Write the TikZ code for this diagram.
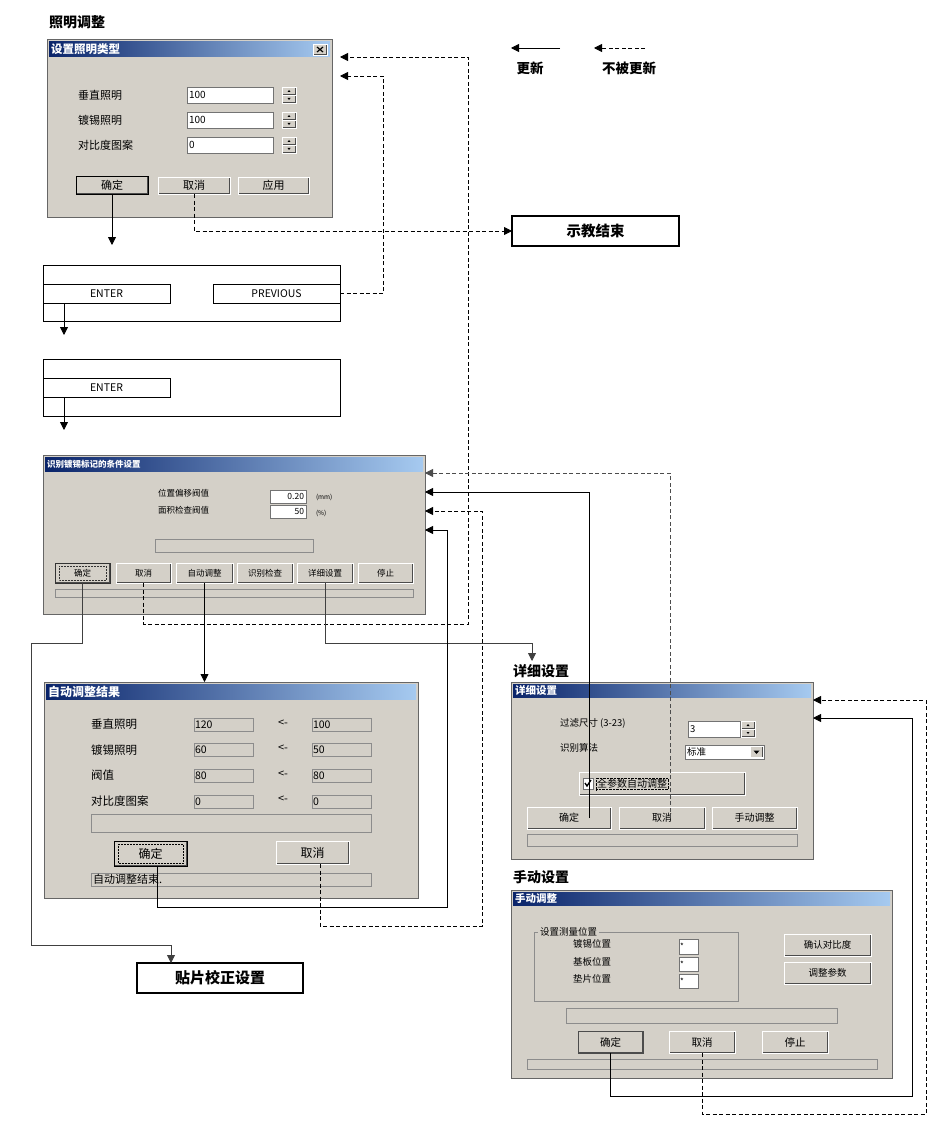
\documentclass[tikz,border=0pt]{standalone}
\usepackage{fontspec}
\setmainfont{Noto Sans CJK SC}
\usetikzlibrary{arrows.meta,fit,calc}
\definecolor{winbg}{HTML}{D4D0C8}
\definecolor{tbA}{HTML}{0A246A}
\definecolor{tbB}{HTML}{A6CAF0}
\newcommand\fs[1]{\fontsize{#1}{#1}\selectfont}
\newcommand\wintitle[4]{%
  \shade[left color=tbA, right color=tbB] ([shift={(2,2)}]#1.north west) rectangle ([shift={(-2,#2)}]#1.north east);
  \node[box, anchor=west, text=white, font=\bfseries\fs{#3}] (#1title) at ([shift={(4,{(#2+2)/2})}]#1.north west) {#4};}
\newcommand\spin[3]{%
  \node[btn, fit={(#2,#3)(#2+14,#3+8)}] (#1u) {};
  \node[btn, fit={(#2,#3+8)(#2+14,#3+16)}] (#1d) {};
  \fill (#1u.center) ++(-1.5,1) -- ++(3,0) -- ++(-1.5,-2) -- cycle;
  \fill (#1d.center) ++(-1.5,-1) -- ++(3,0) -- ++(-1.5,2) -- cycle;}
% box with centred text: [style]{name}{x1}{y1}{x2}{y2}{font}{text}
\newcommand\bx[8][]{%
  \node[#1, fit={(#3,#4)(#5,#6)}] (#2) {};
  \node[box, font=#7] (#2T) at (#2.center) {#8};}
\tikzset{
  box/.style={inner sep=0pt, outer sep=0pt},
  dlg/.style={box, fill=winbg, draw=black!60, line width=1pt},
  btn/.style={box, fill=winbg, draw=white, line width=0.8pt,
    path picture={\draw[black!70, line width=2pt] (path picture bounding box.south west) -- (path picture bounding box.south east) -- (path picture bounding box.north east);}},
  btnd/.style={btn, draw=black, line width=1pt},
  focus/.style={path picture={\draw[black!70, line width=2pt] (path picture bounding box.south west) -- (path picture bounding box.south east) -- (path picture bounding box.north east);
     \draw[densely dotted, line width=0.5pt] ([shift={(4,3)}]path picture bounding box.north west) rectangle ([shift={(-4,-3)}]path picture bounding box.south east);}},
  fld/.style={box, fill=white, draw=black!55, line width=0.8pt},
  dfld/.style={box, fill=winbg, draw=black!45, line width=0.8pt},
  scr/.style={box, draw=black, line width=0.6pt},
  endbox/.style={box, draw=black, line width=1.6pt, fill=white},
  head/.style={box, anchor=west, font=\bfseries\fs{14}},
  lbl/.style={box, anchor=west},
  val/.style={box, anchor=west},
  upd/.style={draw=black, line width=0.8pt, -{Triangle[length=8pt,width=8pt]}},
  noupd/.style={upd, dash pattern=on 4pt off 2.5pt},
}
\begin{document}
\begin{tikzpicture}[x=1pt,y=-1pt]
\fill[white] (0,0) rectangle (936,1134);
\useasboundingbox (0,0) rectangle (936,1134);

% ---------------- Dialog 1
\node[head] (h1) at (49,22) {照明调整};
\node[dlg, fit={(47,40)(332,217)}] (d1) {};
\wintitle{d1}{17}{11.5}{设置照明类型}
\node[btn, fit={(313,44)(327,55)}] (d1x) {};
\draw[line width=1.2pt] ([shift={(4,3)}]d1x.north west) -- ([shift={(-4,-3)}]d1x.south east)
  ([shift={(-4,3)}]d1x.north east) -- ([shift={(4,-3)}]d1x.south west);
\node[lbl, font=\fs{11}] (d1l1) at (78,95) {垂直照明};
\node[lbl, font=\fs{11}] (d1l2) at (78,120) {镀锡照明};
\node[lbl, font=\fs{11}] (d1l3) at (78,145) {对比度图案};
\node[fld, fit={(187,87)(273,103)}] (d1f1) {};
\node[fld, fit={(187,112)(273,128)}] (d1f2) {};
\node[fld, fit={(187,137)(273,153)}] (d1f3) {};
\node[val, font=\fs{10}] (d1v1) at ([xshift=2pt]d1f1.west) {100};
\node[val, font=\fs{10}] (d1v2) at ([xshift=2pt]d1f2.west) {100};
\node[val, font=\fs{10}] (d1v3) at ([xshift=2pt]d1f3.west) {0};
\spin{d1s1}{282}{87}
\spin{d1s2}{282}{112}
\spin{d1s3}{282}{137}
\bx[btnd]{d1ok}{76}{177}{148}{194}{\fs{11}}{确定}
\bx[btn]{d1cancel}{158}{177}{230}{194}{\fs{11}}{取消}
\bx[btn]{d1apply}{238}{177}{309}{194}{\fs{11}}{应用}

% ---------------- Legend
\coordinate (lg1s) at (560,48); \coordinate (lg1e) at (511,48);
\coordinate (lg2s) at (645,48); \coordinate (lg2e) at (594,48);
\draw[upd] (lg1s) -- (lg1e);
\draw[noupd] (lg2s) -- (lg2e);
\node[box, font=\bfseries\fs{13.5}] (lg1t) at (530,68) {更新};
\node[box, font=\bfseries\fs{13.5}] (lg2t) at (629,68) {不被更新};

% ---------------- End boxes
\bx[endbox]{teachend}{512}{216}{679}{246}{\bfseries\fs{14.5}}{示教结束}
\bx[endbox]{mount}{137}{963}{303}{993}{\bfseries\fs{15}}{贴片校正设置}

% ---------------- Screens
\node[scr, fit={(43,265)(340,321)}] (s1) {};
\bx[scr]{s1enter}{43}{284}{170}{303}{\fs{10.5}}{ENTER}
\bx[scr]{s1prev}{213}{284}{340}{303}{\fs{10.5}}{PREVIOUS}
\node[scr, fit={(43,359)(340,416)}] (s2) {};
\bx[scr]{s2enter}{43}{378}{170}{397}{\fs{10.5}}{ENTER}

% ---------------- Dialog 2
\node[dlg, fit={(43,455)(425,614)}] (d2) {};
\wintitle{d2}{16}{8.5}{识别镀锡标记的条件设置}
\node[lbl, font=\fs{8.5}] (d2l1) at (158,493) {位置偏移阀值};
\node[lbl, font=\fs{8.5}] (d2l2) at (158,510) {面积检查阀值};
\node[fld, fit={(270,490)(306,503)}] (d2f1) {};
\node[fld, fit={(270,505)(306,518)}] (d2f2) {};
\node[box, anchor=east, font=\fs{8.5}] (d2v1) at ([xshift=-2pt]d2f1.east) {0.20};
\node[box, anchor=east, font=\fs{8.5}] (d2v2) at ([xshift=-2pt]d2f2.east) {50};
\node[lbl, font=\fs{6.5}] (d2u1) at (316,497) {(mm)};
\node[lbl, font=\fs{6.5}] (d2u2) at (316,513) {(\%)};
\node[dfld, fit={(155,539)(313,552)}] (d2bar) {};
\bx[btn, focus, draw=black!80]{d2ok}{55}{563}{110}{583}{\fs{8.5}}{确定}
\bx[btn]{d2cancel}{116}{563}{171}{583}{\fs{8.5}}{取消}
\bx[btn]{d2auto}{176}{563}{233}{583}{\fs{8.5}}{自动调整}
\bx[btn]{d2check}{237}{563}{293}{583}{\fs{8.5}}{识别检查}
\bx[btn]{d2detail}{297}{563}{353}{583}{\fs{8.5}}{详细设置}
\bx[btn]{d2stop}{358}{563}{413}{583}{\fs{8.5}}{停止}
\node[dfld, fit={(55,589)(413,597)}] (d2status) {};

% ---------------- Dialog 3
\node[dlg, fit={(44,682)(418,898)}] (d3) {};
\wintitle{d3}{17}{12}{自动调整结果}
\node[lbl, font=\fs{11.5}] (d3l1) at (91,724) {垂直照明};
\node[lbl, font=\fs{11.5}] (d3l2) at (91,750) {镀锡照明};
\node[lbl, font=\fs{11.5}] (d3l3) at (91,775) {阀值};
\node[lbl, font=\fs{11.5}] (d3l4) at (91,801) {对比度图案};
\node[dfld, fit={(194,718)(253,731)}] (d3a1) {};
\node[dfld, fit={(194,743)(253,756)}] (d3a2) {};
\node[dfld, fit={(194,769)(253,782)}] (d3a3) {};
\node[dfld, fit={(194,795)(253,808)}] (d3a4) {};
\node[dfld, fit={(312,718)(371,731)}] (d3b1) {};
\node[dfld, fit={(312,743)(371,756)}] (d3b2) {};
\node[dfld, fit={(312,769)(371,782)}] (d3b3) {};
\node[dfld, fit={(312,795)(371,808)}] (d3b4) {};
\node[val, font=\fs{10.5}] (d3va1) at ([xshift=1pt]d3a1.west) {120};
\node[val, font=\fs{10.5}] (d3va2) at ([xshift=1pt]d3a2.west) {60};
\node[val, font=\fs{10.5}] (d3va3) at ([xshift=1pt]d3a3.west) {80};
\node[val, font=\fs{10.5}] (d3va4) at ([xshift=1pt]d3a4.west) {0};
\node[val, font=\fs{10.5}] (d3vb1) at ([xshift=1pt]d3b1.west) {100};
\node[val, font=\fs{10.5}] (d3vb2) at ([xshift=1pt]d3b2.west) {50};
\node[val, font=\fs{10.5}] (d3vb3) at ([xshift=1pt]d3b3.west) {80};
\node[val, font=\fs{10.5}] (d3vb4) at ([xshift=1pt]d3b4.west) {0};
\node[box, font=\fs{11}] (d3r1) at (283,723) {<-};
\node[box, font=\fs{11}] (d3r2) at (283,748) {<-};
\node[box, font=\fs{11}] (d3r3) at (283,774) {<-};
\node[box, font=\fs{11}] (d3r4) at (283,799) {<-};
\node[dfld, fit={(91,814)(371,832)}] (d3bar) {};
\bx[btnd, focus]{d3ok}{114}{841}{187}{866}{\fs{12}}{确定}
\bx[btn]{d3cancel}{276}{841}{349}{864}{\fs{12}}{取消}
\node[dfld, fit={(91,873)(371,886)}] (d3status) {};
\node[val, font=\fs{11}] (d3st) at ([xshift=2pt]d3status.west) {自动调整结束.};

% ---------------- Dialog 4
\node[head] (h4) at (513,671) {详细设置};
\node[dlg, fit={(511,682)(813,859)}] (d4) {};
\wintitle{d4}{15}{10.5}{详细设置}
\node[lbl, font=\fs{9.5}] (d4l1) at (560,723) {过滤尺寸 (3-23)};
\node[lbl, font=\fs{9.5}] (d4l2) at (560,748) {识别算法};
\node[fld, fit={(688,721)(740,737)}] (d4f1) {};
\node[val, font=\fs{9.5}] (d4v1) at ([xshift=2pt]d4f1.west) {3};
\spin{d4s1}{741}{721}
\node[fld, fit={(685,745)(764,759)}] (d4dd) {};
\node[val, font=\fs{9.5}] (d4ddv) at ([xshift=2pt]d4dd.west) {标准};
\node[btn, fit={(750,746.5)(763,757.5)}] (d4ddb) {};
\fill (d4ddb.center) ++(-3,-1.5) -- ++(6,0) -- ++(-3,3.5) -- cycle;
\node[btn, fit={(579,772)(745,795)}] (d4chk) {};
\node[fld, fit={(583,778)(593,789)}] (d4box) {};
\draw[line width=1.3pt] ([shift={(2,5)}]d4box.north west) -- ([shift={(4,8)}]d4box.north west) -- ([shift={(8,2)}]d4box.north west);
\node[lbl, font=\fs{10}, draw=black, densely dotted, line width=0.4pt, inner sep=1pt] (d4chkt) at (596,784) {全参数自动调整};
\bx[btn]{d4ok}{527}{807}{611}{829}{\fs{10}}{确定}
\bx[btn]{d4cancel}{619}{807}{705}{829}{\fs{10}}{取消}
\bx[btn]{d4manual}{712}{807}{797}{829}{\fs{10}}{手动调整}
\node[dfld, fit={(527,834)(797,846)}] (d4status) {};

% ---------------- Dialog 5
\node[head] (h5) at (513,877) {手动设置};
\node[dlg, fit={(511,890)(892,1078)}] (d5) {};
\wintitle{d5}{15}{10.5}{手动调整}
\node[box, draw=black!45, line width=0.8pt, fit={(534,932)(738,1001)}] (d5grp) {};
\node[lbl, fill=winbg, inner xsep=2pt, font=\fs{9.5}] (d5grpl) at (538,932) {设置测量位置};
\node[lbl, font=\fs{9.5}] (d5l1) at (573,944) {镀锡位置};
\node[lbl, font=\fs{9.5}] (d5l2) at (573,962) {基板位置};
\node[lbl, font=\fs{9.5}] (d5l3) at (573,979) {垫片位置};
\node[fld, fit={(679,939)(698,954)}] (d5f1) {};
\node[fld, fit={(679,957)(698,971)}] (d5f2) {};
\node[fld, fit={(679,974)(698,988)}] (d5f3) {};
\node[val, font=\fs{8}] (d5v1) at ([xshift=1pt]d5f1.west) {*};
\node[val, font=\fs{8}] (d5v2) at ([xshift=1pt]d5f2.west) {*};
\node[val, font=\fs{8}] (d5v3) at ([xshift=1pt]d5f3.west) {*};
\bx[btn]{d5contrast}{784}{934}{871}{956}{\fs{9.5}}{确认对比度}
\bx[btn]{d5param}{784}{962}{871}{984}{\fs{9.5}}{调整参数}
\node[dfld, fit={(566,1008)(837,1023)}] (d5bar) {};
\bx[btn, draw=black!70]{d5ok}{578}{1031}{643}{1053}{\fs{10.5}}{确定}
\bx[btn]{d5cancel}{669}{1031}{735}{1053}{\fs{10.5}}{取消}
\bx[btn]{d5stop}{762}{1031}{828}{1053}{\fs{10.5}}{停止}
\node[dfld, fit={(527,1059)(877,1069)}] (d5status) {};

% ---------------- Connector helper coordinates
\coordinate (p57) at (0,57);
\coordinate (p473) at (0,473);
\coordinate (p492) at (0,492);
\coordinate (p511) at (0,511);
\coordinate (p530) at (0,530);
\coordinate (p700) at (0,700);
\coordinate (p718) at (0,718);
\coordinate (a1) at (112,245);
\coordinate (a2) at (64,335);
\coordinate (a3) at (64,430);
\coordinate (a4) at (532,661);
\coordinate (b2) at (383,76);
\coordinate (b3) at (468,624);
\coordinate (b4) at (31,643);
\coordinate (b5) at (171,945);
\coordinate (b6) at (532,643);
\coordinate (b7) at (482,926);
\coordinate (b8) at (447,907);
\coordinate (b9) at (912,1096);
\coordinate (b10) at (926,1114);

% ---------------- Connectors
\draw[upd] (d1ok.south) -- (a1);
\draw[noupd] (d1cancel.south) |- (teachend.west);
\draw[noupd, shorten >=8pt] (s1prev.east) -| (b2) -- (d1.east |- b2);
\draw[upd] (s1enter.south -| a2) -- (a2);
\draw[upd] (s2enter.south -| a3) -- (a3);
\draw[noupd, shorten >=8pt] (d2cancel.south) |- (b3) |- (d1.east |- p57);
\draw[upd, draw=black!75] (d2ok.south) |- (b4) |- (b5) -- (mount.north -| b5);
\draw[upd] (d2auto.south) -- (d2auto.south |- d3.north);
\draw[upd, draw=black!75] (d2detail.south) |- (b6) -- (a4);
\draw[noupd, draw=black!70] ([xshift=8pt]d4cancel.center) |- (d2.east |- p473);
\draw[upd] ([xshift=20pt]d4ok.center) |- (d2.east |- p492);
\draw[noupd] ([xshift=7.5pt]d3cancel.south) |- (b7) |- (d2.east |- p511);
\draw[upd] ([xshift=6.5pt]d3ok.south) |- (b8) |- (d2.east |- p530);
\draw[upd] (d5ok.south) |- (b9) |- (d4.east |- p718);
\draw[noupd] (d5cancel.south) |- (b10) |- (d4.east |- p700);
\end{tikzpicture}
\end{document}
